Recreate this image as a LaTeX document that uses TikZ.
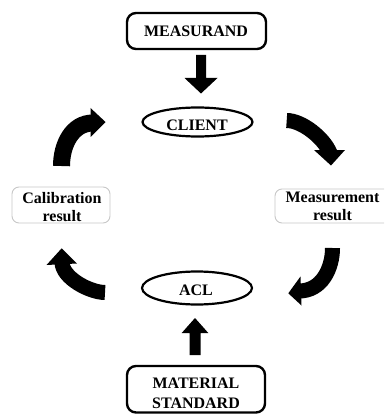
\documentclass[tikz,border=0pt]{standalone}
\usepackage{fontspec}
\setmainfont{Liberation Serif}
\usetikzlibrary{shapes.geometric}
\begin{document}
\begin{tikzpicture}[x=1pt,y=-1pt]
\tikzset{
  lbl/.style={font=\fontsize{16}{18}\selectfont\bfseries, inner sep=0pt, anchor=base},
  mainbox/.style={draw, line width=2.4pt, rounded corners=9pt},
  softbox/.style={draw=black!22, line width=0.9pt, rounded corners=7pt},
  oval/.style={draw, ellipse, line width=2.2pt, inner sep=0pt},
  shaft/.style={line width=15pt},
  head/.style={fill=black},
}
\useasboundingbox (0,0) rectangle (384,414);
\clip (0,0) rectangle (384,414);

% boxes
\draw[mainbox] (127,13) rectangle (266,49);
\draw[mainbox] (127,366) rectangle (265,412.5);
\draw[softbox] (12,187) rectangle (110,223);
\draw[softbox] (275,189) rectangle (392,223);

% ellipses
\node[oval, minimum width=110pt, minimum height=29pt] (client) at (197.5,122) {};
\node[oval, minimum width=110pt, minimum height=33pt] (acl) at (197,288) {};

% texts
\node[lbl] (measurand) at (196,36.7) {MEASURAND};
\node[lbl] (clientt) at (197,131) {CLIENT};
\node[lbl] (aclt) at (196,295) {ACL};
\node[lbl] (cal1) at (62,203) {Calibration};
\node[lbl] (cal2) at (62,221) {result};
\node[lbl] (mea1) at (332.5,202.7) {Measurement};
\node[lbl] (mea2) at (332.5,220.5) {result};
\node[lbl] (mat1) at (196,388) {MATERIAL};
\node[lbl] (mat2) at (196,408) {STANDARD};

% straight block arrows
\fill (196,55) -- (206,55) -- (206,78) -- (217.5,78) -- (201,93.5) -- (184.5,78) -- (196,78) -- cycle;
\fill (189.5,355) -- (200.5,355) -- (200.5,333) -- (208.3,333) -- (195,318) -- (181.7,333) -- (189.5,333) -- cycle;

% curved arrows
% top-left
\draw[line width=17pt] (61.5,166) .. controls (61.5,145) and (72,123) .. (93,123);
\fill[head] (90.5,108) -- (105.5,122) -- (90.5,137) -- cycle;
% top-right
\draw[shaft] (286.7,120.5) .. controls (302,120.5) and (324,138) .. (330,153);
\fill[head] (314,150) -- (345,150) -- (331,165.5) -- cycle;
% bottom-right
\draw[shaft] (332.5,248) .. controls (332.5,268) and (322,291) .. (299,291);
\fill[head] (300.5,276.5) -- (288.3,293.3) -- (301.5,305.5) -- cycle;
% bottom-left
\draw[shaft] (105,292.5) .. controls (90,292.5) and (62,278) .. (62,262);
\fill[head] (46.5,265) -- (61.7,248.3) -- (77,263.5) -- cycle;
\end{tikzpicture}
\end{document}
